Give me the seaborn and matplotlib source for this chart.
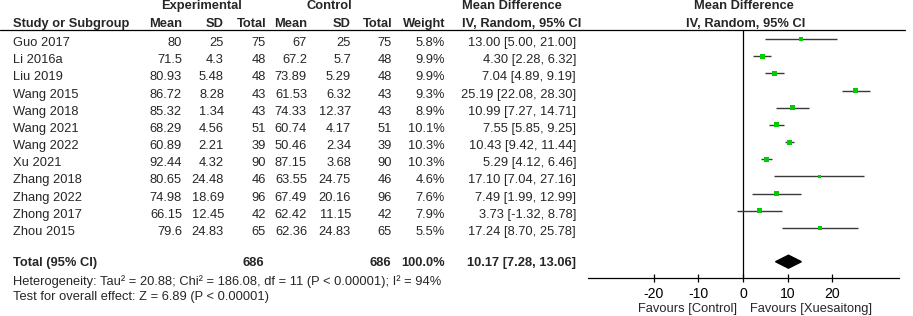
import matplotlib
matplotlib.use("Agg")
import numpy as np
import pandas as pd
import seaborn as sns
from matplotlib import pyplot as plt
from matplotlib import transforms
from matplotlib.lines import Line2D

# study data
studies = ["Guo 2017", "Li 2016a", "Liu 2019", "Wang 2015", "Wang 2018", "Wang 2021",
           "Wang 2022", "Xu 2021", "Zhang 2018", "Zhang 2022", "Zhong 2017", "Zhou 2015"]
exp_mean = [80, 71.5, 80.93, 86.72, 85.32, 68.29, 60.89, 92.44, 80.65, 74.98, 66.15, 79.6]
exp_sd = [25, 4.3, 5.48, 8.28, 1.34, 4.56, 2.21, 4.32, 24.48, 18.69, 12.45, 24.83]
exp_n = [75, 48, 48, 43, 43, 51, 39, 90, 46, 96, 42, 65]
ctl_mean = [67, 67.2, 73.89, 61.53, 74.33, 60.74, 50.46, 87.15, 63.55, 67.49, 62.42, 62.36]
ctl_sd = [25, 5.7, 5.29, 6.32, 12.37, 4.17, 2.34, 3.68, 24.75, 20.16, 11.15, 24.83]
ctl_n = [75, 48, 48, 43, 43, 51, 39, 90, 46, 96, 42, 65]
weight = [5.8, 9.9, 9.9, 9.3, 8.9, 10.1, 10.3, 10.3, 4.6, 7.6, 7.9, 5.5]
md = [13.00, 4.30, 7.04, 25.19, 10.99, 7.55, 10.43, 5.29, 17.10, 7.49, 3.73, 17.24]
ci_lo = [5.00, 2.28, 4.89, 22.08, 7.27, 5.85, 9.42, 4.12, 7.04, 1.99, -1.32, 8.70]
ci_hi = [21.00, 6.32, 9.19, 28.30, 14.71, 9.25, 11.44, 6.46, 27.16, 12.99, 8.78, 25.78]

total_exp = 686
total_ctl = 686
pooled = [10.17, 7.28, 13.06]
hetero_text = "Heterogeneity: Tau² = 20.88; Chi² = 186.08, df = 11 (P < 0.00001); I² = 94%"
overall_text = "Test for overall effect: Z = 6.89 (P < 0.00001)"
xticks = [-20, -10, 0, 10, 20]

df = pd.DataFrame({"study": studies, "md": md, "lo": ci_lo, "hi": ci_hi,
                   "weight": weight, "row": np.arange(len(studies))})

sns.set_theme(style="white")
plt.rcParams["font.family"] = ["Liberation Sans", "DejaVu Sans"]
FS = 9.3

W, H = 913, 316
fig = plt.figure(figsize=(W / 100, H / 100), dpi=100)

# forest axis placed in pixel terms
px_left, px_right, px_top, px_bot = 587.7, 899, 29.5, 278.3
ax = fig.add_axes([px_left / W, 1 - px_bot / H, (px_right - px_left) / W, (px_bot - px_top) / H])

row0, step = 39.0, 17.18
def prow(p):
    return (p - row0) / step

ax.set_xlim(-34.75, 34.9)
ax.set_ylim(prow(px_bot), prow(px_top))

# confidence intervals + squares
ax.hlines(df["row"], df["lo"], df["hi"], color="#3a3a3a", lw=1.0, zorder=2)
sns.scatterplot(data=df, x="md", y="row", size="weight", sizes=(7.5, 13.5),
                marker="s", color="#00cc00", edgecolor="none", legend=False,
                ax=ax, zorder=3)

# pooled diamond
total_row = prow(261.7)
dh = 6.5 / step
ax.fill([pooled[1], pooled[0], pooled[2], pooled[0]],
        [total_row, total_row - dh, total_row, total_row + dh], color="black", zorder=3)

ax.axvline(0, color="black", lw=0.9, zorder=1)

for s in ["top", "left", "right"]:
    ax.spines[s].set_visible(False)
ax.spines["bottom"].set_color("black")
ax.spines["bottom"].set_linewidth(0.9)
ax.set_xticks(xticks)
ax.set_xticklabels([str(t) for t in xticks])
ax.set_yticks([])
ax.tick_params(axis="x", direction="inout", length=6, width=0.9, pad=3,
               labelsize=FS + 0.8, colors="black", bottom=True)
ax.set_xlabel("")
ax.set_ylabel("")

ax.text(-1.3, prow(309), "Favours [Control]", ha="right", va="center", fontsize=FS, clip_on=False)
ax.text(1.6, prow(309), "Favours [Xuesaitong]", ha="left", va="center", fontsize=FS, clip_on=False)

# table text: x in pixels of the figure, y in forest rows
blend = transforms.blended_transform_factory(fig.transFigure, ax.transData)
def put(xpx, ypx, s, ha="right", bold=False):
    fig.text(xpx / W, prow(ypx), s, transform=blend, ha=ha, va="center",
             fontsize=FS, fontweight="bold" if bold else "normal")

col_x = [182, 224, 266, 307, 351, 392, 445]

# headers
put(201.5, 6, "Experimental", ha="center", bold=True)
put(329, 6, "Control", ha="center", bold=True)
put(462, 6, "Mean Difference", ha="left", bold=True)
put(744, 6, "Mean Difference", ha="center", bold=True)
put(13, 24, "Study or Subgroup", ha="left", bold=True)
for x, h in zip(col_x, ["Mean", "SD", "Total", "Mean", "SD", "Total", "Weight"]):
    put(x, 24, h, bold=True)
put(462, 24, "IV, Random, 95% CI", ha="left", bold=True)
put(746, 24, "IV, Random, 95% CI", ha="center", bold=True)

fig.add_artist(Line2D([0, 905 / W], [prow(px_top)] * 2, transform=blend, color="black", lw=0.9))

for i in range(len(studies)):
    y = 43 + i * step
    put(13, y, studies[i], ha="left")
    vals = [f"{exp_mean[i]:g}", f"{exp_sd[i]:g}", str(exp_n[i]),
            f"{ctl_mean[i]:g}", f"{ctl_sd[i]:g}", str(ctl_n[i]), f"{weight[i]:.1f}%"]
    for x, v in zip(col_x, vals):
        put(x, y, v)
    put(576, y, f"{md[i]:.2f} [{ci_lo[i]:.2f}, {ci_hi[i]:.2f}]")

put(13, 263, "Total (95% CI)", ha="left", bold=True)
put(264, 263, str(total_exp), bold=True)
put(391, 263, str(total_ctl), bold=True)
put(445, 263, "100.0%", bold=True)
put(576, 263, f"{pooled[0]:.2f} [{pooled[1]:.2f}, {pooled[2]:.2f}]", bold=True)
put(13, 282, hetero_text, ha="left")
put(13, 297, overall_text, ha="left")

fig.savefig("out.png", dpi=100)
